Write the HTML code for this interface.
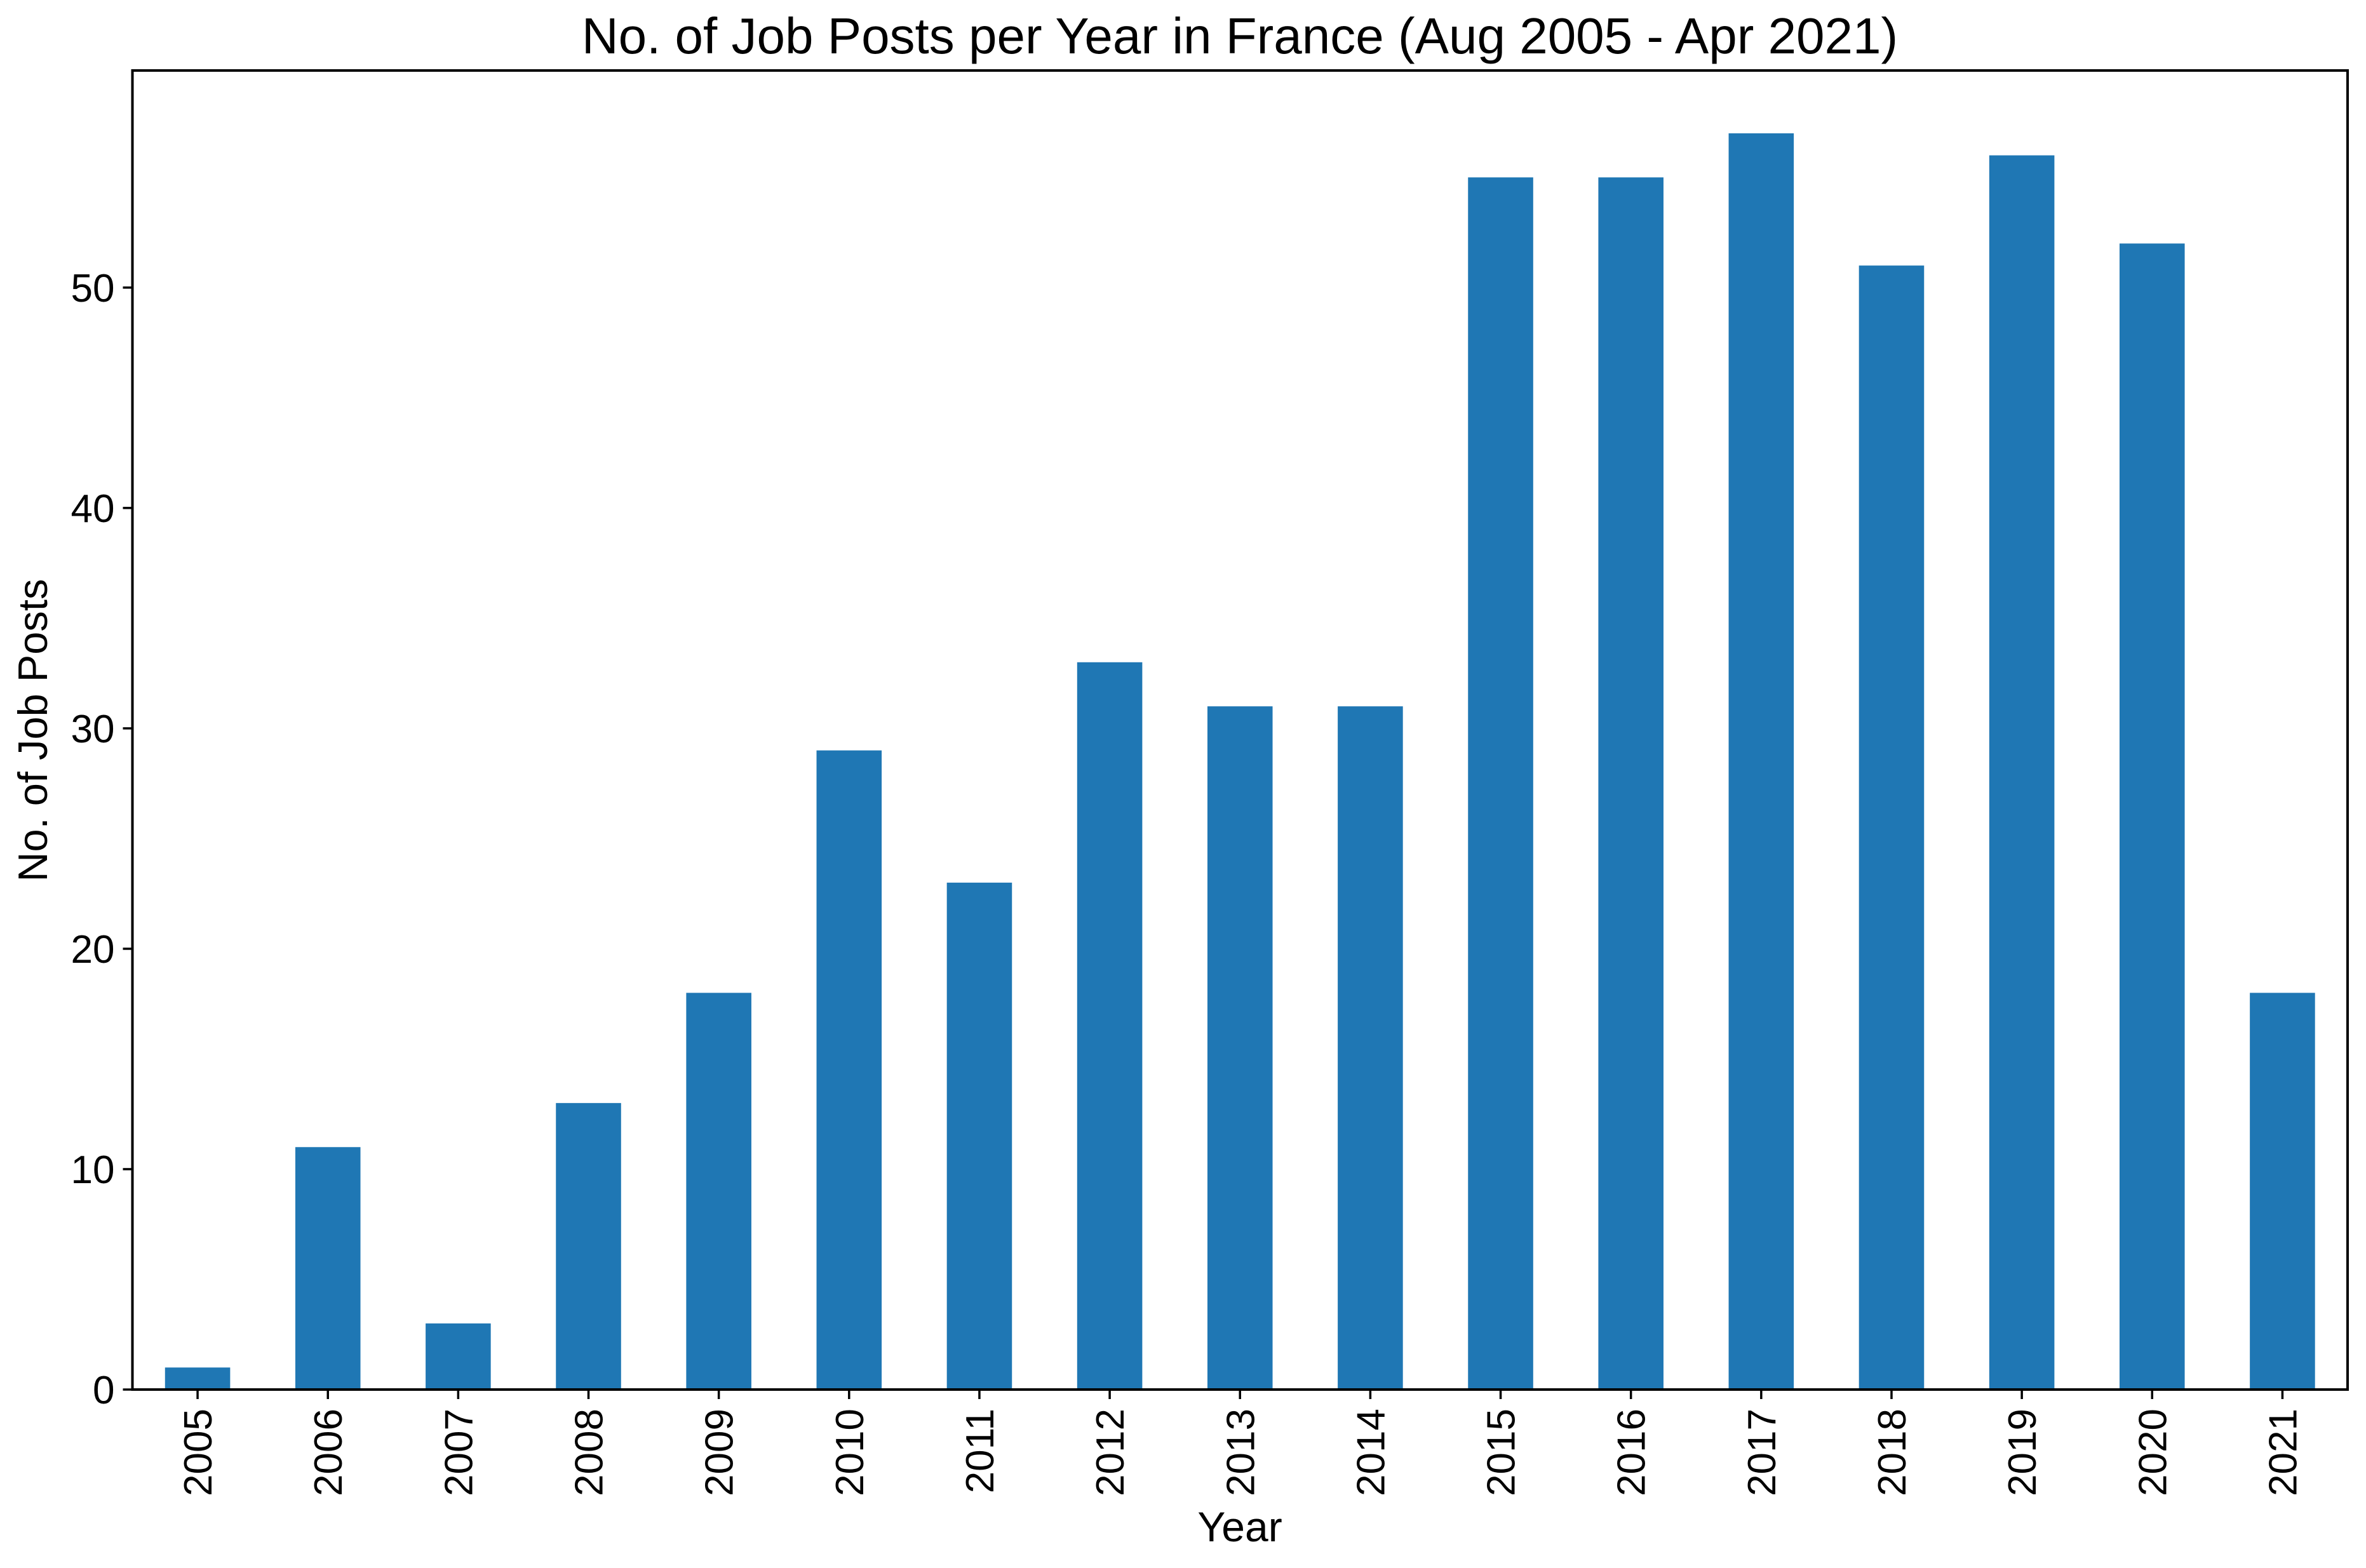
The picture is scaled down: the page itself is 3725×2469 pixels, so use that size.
<!DOCTYPE html>
<html><head><meta charset="utf-8"><style>body{margin:0;background:#fff}svg{display:block}text{font-family:"Liberation Sans","DejaVu Sans",sans-serif;fill:#000}</style></head>
<body>
<svg id="chart" width="3725" height="2469" viewBox="0 0 3725 2469" xmlns="http://www.w3.org/2000/svg">
<text x="1952" y="84" font-size="80" text-anchor="middle">No. of Job Posts per Year in France (Aug 2005 - Apr 2021)</text>
<text x="1952" y="2427" font-size="66" text-anchor="middle">Year</text>
<text transform="translate(74,1150) rotate(-90)" font-size="65" text-anchor="middle">No. of Job Posts</text>
<g id="bars"></g><g id="xticks"></g><g id="yticks"></g>
<rect x="208.5" y="111" width="3487.5" height="2077" fill="none" stroke="#000" stroke-width="4"/>
</svg>
<script>
const categories = ["2005","2006","2007","2008","2009","2010","2011","2012","2013","2014","2015","2016","2017","2018","2019","2020","2021"];
const values = [1,11,3,13,18,29,23,33,31,31,55,55,57,51,56,52,18];
const yTicks = [0,10,20,30,40,50];
const L=208.5,R=3696,T=111,B=2188,yMax=59.85;
const ns="http://www.w3.org/2000/svg";
const step=(R-L)/categories.length;
function xC(i){return L+step*(i+0.5);}
function y(v){return B-(B-T)*v/yMax;}
function mk(t,a){const e=document.createElementNS(ns,t);for(const k in a)e.setAttribute(k,a[k]);return e;}
const gb=document.getElementById('bars'),gx=document.getElementById('xticks'),gy=document.getElementById('yticks');
categories.forEach((c,i)=>{
  const r=mk('rect',{x:xC(i)-step/4,y:y(values[i]),width:step/2,height:B-y(values[i]),fill:'#1f77b4'});
  
  
  gb.appendChild(r);
  const tk=mk('line',{x1:xC(i),x2:xC(i),y1:B,y2:B+15,stroke:'#000','stroke-width':3.5});
  
  
  gx.appendChild(tk);
  const t=mk('text',{transform:`translate(${xC(i)+22},${B+30}) rotate(-90)`,'font-size':62,'text-anchor':'end'});
  t.textContent=c;
  
  
  gx.appendChild(t);
});
yTicks.forEach(v=>{
  const tk=mk('line',{x1:L-15,x2:L,y1:y(v),y2:y(v),stroke:'#000','stroke-width':3.5});
  
  
  gy.appendChild(tk);
  const t=mk('text',{x:L-28,y:y(v)+22,'font-size':62,'text-anchor':'end'});
  t.textContent=v;
  
  
  gy.appendChild(t);
});
</script>
</body></html>
